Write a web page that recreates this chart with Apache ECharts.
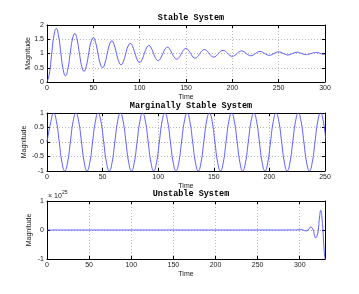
<!DOCTYPE html>
<html>
<head>
<meta charset="utf-8">
<script src="https://cdn.jsdelivr.net/npm/echarts@6/dist/echarts.min.js"></script>
<style>html,body{margin:0;padding:0;background:#fff;}#c{width:359px;height:294px;}</style>
</head>
<body>
<div id="c"></div>
<script>
// ---- Data ----
const titles = ['Stable System', 'Marginally Stable System', 'Unstable System'];
const xLabel = 'Time';
const yLabel = 'Magnitude';
const exponentLabel = '25';

const stableTime = [0,2.5,5,7.5,10,12.5,15,17.5,20,22.5,25,27.5,30,32.5,35,37.5,40,42.5,45,47.5,
  50,52.5,55,57.5,60,62.5,65,67.5,70,72.5,75,77.5,80,82.5,85,87.5,90,92.5,95,97.5,
  100,102.5,105,107.5,110,112.5,115,117.5,120,122.5,125,127.5,130,132.5,135,137.5,140,142.5,145,147.5,
  150,152.5,155,157.5,160,162.5,165,167.5,170,172.5,175,177.5,180,182.5,185,187.5,190,192.5,195,197.5,
  200,202.5,205,207.5,210,212.5,215,217.5,220,222.5,225,227.5,230,232.5,235,237.5,240,242.5,245,247.5,
  250,252.5,255,257.5,260,262.5,265,267.5,270,272.5,275,277.5,280,282.5,285,287.5,290,292.5,295,297.5,300];
const stableValue = [0,0.28,0.97,1.63,1.88,1.61,1.0,0.43,0.215,0.46,1.0,1.51,1.70,1.48,1.0,0.55,0.375,0.57,1.0,1.41,
  1.557,1.38,1.0,0.64,0.503,0.66,1.0,1.32,1.444,1.30,1.0,0.71,0.604,0.73,1.0,1.26,1.353,1.24,1.0,0.77,
  0.685,0.78,1.0,1.20,1.281,1.19,1.0,0.82,0.749,0.83,1.0,1.16,1.223,1.15,1.0,0.86,0.801,0.86,1.0,1.13,
  1.178,1.12,1.0,0.88,0.841,0.89,1.0,1.10,1.141,1.097,1.0,0.908,0.874,0.914,1.0,1.082,1.113,1.077,1.0,0.927,
  0.900,0.931,1.0,1.065,1.089,1.062,1.0,0.942,0.920,0.946,1.0,1.052,1.071,1.049,1.0,0.954,0.936,0.957,1.0,1.041,
  1.057,1.039,1.0,0.964,0.949,0.966,1.0,1.033,1.045,1.031,1.0,0.971,0.960,0.973,1.0,1.026,1.036,1.025,1.0,0.977,0.968];

const marginalTime = [0,3.5,6,8.5,11,13.5,16,18.5,21,23.5,26,28.5,31,33.5,36,38.5,41,43.5,46,48.5,
  51,53.5,56,58.5,61,63.5,66,68.5,71,73.5,76,78.5,81,83.5,86,88.5,91,93.5,96,98.5,
  101,103.5,106,108.5,111,113.5,116,118.5,121,123.5,126,128.5,131,133.5,136,138.5,141,143.5,146,148.5,
  151,153.5,156,158.5,161,163.5,166,168.5,171,173.5,176,178.5,181,183.5,186,188.5,191,193.5,196,198.5,
  201,203.5,206,208.5,211,213.5,216,218.5,221,223.5,226,228.5,231,233.5,236,238.5,241,243.5,246,248.5,251];
const marginalValue = [0,0.71,1,0.71,0,-0.71,-1,-0.71,0,0.71,1,0.71,0,-0.71,-1,-0.71,0,0.71,1,0.71,
  0,-0.71,-1,-0.71,0,0.71,1,0.71,0,-0.71,-1,-0.71,0,0.71,1,0.71,0,-0.71,-1,-0.71,
  0,0.71,1,0.71,0,-0.71,-1,-0.71,0,0.71,1,0.71,0,-0.71,-1,-0.71,0,0.71,1,0.71,
  0,-0.71,-1,-0.71,0,0.71,1,0.71,0,-0.71,-1,-0.71,0,0.71,1,0.71,0,-0.71,-1,-0.71,
  0,0.71,1,0.71,0,-0.71,-1,-0.71,0,0.71,1,0.71,0,-0.71,-1,-0.71,0,0.71,1,0.71,0];

// unstable values in units of 1e25
const unstableTime = [0,50,100,150,200,250,290,295,298,301,304,307,310,313,316,317.5,319,320.5,322,323.5,325,326.3,327.5,329,330];
const unstableValue = [0,0,0,0,0,0,0,0.002,0.006,0.012,0,-0.03,0,0.10,0,-0.19,-0.27,-0.2,0,0.45,0.68,0.45,0,-0.7,-1.0];

const stableYTicks = [0, 2, 0.5];
const marginalYTicks = [-1, 1, 0.5];
const unstableYTicks = [-1, 1, 1];

// ---- Chart ----
const lineColor = '#4a4aff';
const gridColor = '#b8b8b8';
const labelFont = 'Liberation Sans';
const grids = [
  {left: 47, top: 25, width: 278, height: 57},
  {left: 47, top: 113, width: 278, height: 58},
  {left: 47, top: 201, width: 278, height: 58}
];
const xRanges = [[0, 300], [0, 250], [0, 330]];
const yRanges = [stableYTicks, marginalYTicks, unstableYTicks];
const yGaps = [15, 19, 14];
const seriesData = [
  stableTime.map((t, i) => [t, stableValue[i]]),
  marginalTime.map((t, i) => [t, marginalValue[i]]),
  unstableTime.map((t, i) => [t, unstableValue[i]])
];

const xAxis = [], yAxis = [], series = [], title = [];
grids.forEach((g, i) => {
  const common = {
    gridIndex: i,
    axisLine: {show: true, onZero: false, lineStyle: {color: '#000', width: 1}},
    axisTick: {show: true, inside: true, length: 3, lineStyle: {color: '#000'}},
  };
  xAxis.push(Object.assign({}, common, {
    type: 'value', position: 'bottom', min: xRanges[i][0], max: xRanges[i][1], interval: 50,
    name: xLabel, nameLocation: 'middle', nameGap: 12, nameMoveOverlap: false,
    nameTextStyle: {fontFamily: labelFont, fontSize: 7, color: '#222'},
    axisLabel: {fontFamily: labelFont, fontSize: 7, color: '#222', margin: 3, showMaxLabel: i !== 2},
    splitLine: {show: true, lineStyle: {color: gridColor, type: [1, 2], width: 1}}
  }));
  xAxis.push(Object.assign({}, common, {
    type: 'value', position: 'top', min: xRanges[i][0], max: xRanges[i][1], interval: 50,
    axisLabel: {show: false}, splitLine: {show: false}
  }));
  yAxis.push(Object.assign({}, common, {
    type: 'value', position: 'left', min: yRanges[i][0], max: yRanges[i][1], interval: yRanges[i][2],
    name: yLabel, nameLocation: 'middle', nameGap: yGaps[i], nameRotate: 90, nameMoveOverlap: false,
    nameTextStyle: {fontFamily: labelFont, fontSize: 7, color: '#222'},
    axisLabel: {fontFamily: labelFont, fontSize: 7, color: '#222', margin: 3},
    splitLine: {show: true, lineStyle: {color: gridColor, type: [1, 2], width: 1}}
  }));
  yAxis.push(Object.assign({}, common, {
    type: 'value', position: 'right', min: yRanges[i][0], max: yRanges[i][1], interval: yRanges[i][2],
    axisLabel: {show: false}, splitLine: {show: false}
  }));
  series.push({
    type: 'line', xAxisIndex: i * 2, yAxisIndex: i * 2, data: seriesData[i],
    smooth: 0.5, symbol: 'none', clip: true,
    lineStyle: {color: lineColor, width: 0.9}
  });
  title.push({
    text: titles[i], left: g.left + g.width / 2, textAlign: 'center', top: g.top - 17,
    textStyle: {fontFamily: 'Liberation Mono', fontWeight: 'bold', fontSize: 8.5, color: '#000'}
  });
});

const chart = echarts.init(document.getElementById('c'), null, {renderer: 'canvas'});
chart.setOption({
  animation: false,
  backgroundColor: '#fff',
  title: title,
  grid: grids.map(g => Object.assign({show: false, containLabel: false}, g)),
  xAxis: xAxis,
  yAxis: yAxis,
  series: series,
  graphic: [
    {type: 'text', left: 48, top: 193, style: {text: '× 10', fontFamily: labelFont, fontSize: 7, fill: '#222'}},
    {type: 'text', left: 62, top: 190, style: {text: exponentLabel, fontFamily: labelFont, fontSize: 5, fill: '#222'}}
  ]
});
</script>
</body>
</html>
